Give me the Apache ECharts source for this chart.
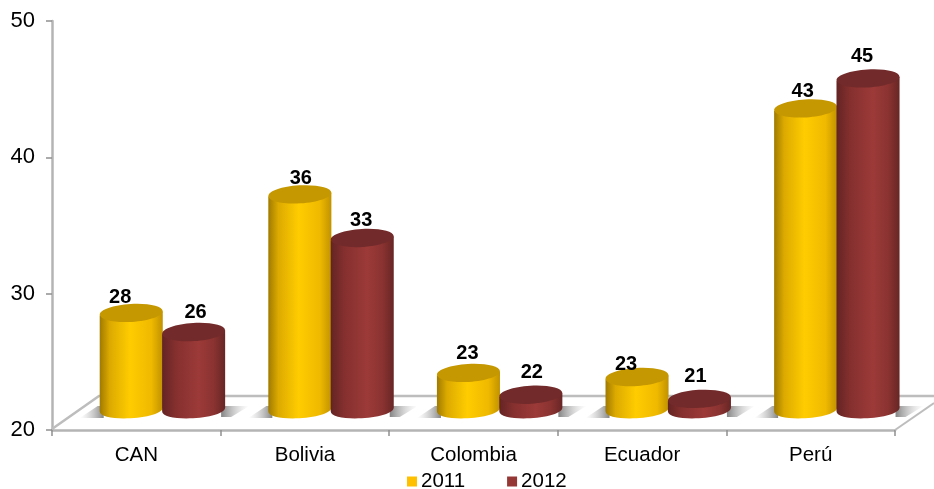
<!DOCTYPE html>
<html><head><meta charset="utf-8">
<script src="https://cdn.jsdelivr.net/npm/echarts@6/dist/echarts.min.js"></script>
<style>html,body{margin:0;padding:0;background:#fff}#c{width:934px;height:489px}</style>
</head><body><div id="c"></div>
<script>
const categories = ['CAN','Bolivia','Colombia','Ecuador','Perú'];
const values2011 = [28.0, 36.7, 23.6, 23.3, 43.0];
const values2012 = [26.6, 33.5, 22.0, 21.7, 45.2];
const yTicks = {min:20, max:50, interval:10};
const labelNudge2011 = [[-11,-15],[1,-16],[-1,-19],[-11,-13],[-3,-17]];
const labelNudge2012 = [[2,-20],[-1,-17],[1,-22],[-4,-22],[-6,-22]];

const FONT = '"Liberation Sans", Arial, sans-serif';
const palettes = {
  '2011': {flat:'#FFC000', stops:[[0,'#a07a00'],[0.16,'#dcaa00'],[0.48,'#ffcc00'],[0.82,'#efb900'],[1,'#c09200']], top:'#c59700'},
  '2012': {flat:'#953735', stops:[[0,'#632423'],[0.22,'#85302f'],[0.58,'#9c3a38'],[0.82,'#8a3331'],[1,'#672625']], top:'#722b2a'}
};
function makeRender(name, barOffset, shadow, nudge){
  const p = palettes[name];
  return function(params, api){
    const cat = api.value(0), v = api.value(1);
    const c = api.coord([cat, v]);
    const base = api.coord([cat, yTicks.min]);
    const band = api.size([1,0])[0];
    const hw = band*0.187, rx = hw, ry = 9, rot = 0.06;
    const cx = c[0] + barOffset*band;
    const topY = c[1] - 8, baseY = base[1] - 21;
    const children = [];
    if(shadow==='left'){
      children.push({type:'polygon',z2:1,shape:{points:[[cx-hw-20,baseY+9],[cx-hw-2,baseY-3],[cx-hw+4,baseY-3],[cx-hw+4,baseY+9]]},
        style:{fill:{type:'linear',x:0,y:0,x2:1,y2:0,colorStops:[{offset:0,color:'rgba(190,190,190,0)'},{offset:1,color:'rgba(110,110,110,0.85)'}]}}});
    } else {
      children.push({type:'polygon',z2:1,shape:{points:[[cx+hw-4,baseY-3],[cx+hw+24,baseY-3],[cx+hw+6,baseY+8],[cx+hw-4,baseY+8]]},
        style:{fill:{type:'linear',x:0,y:0,x2:1,y2:0,colorStops:[{offset:0,color:'rgba(110,110,110,0.85)'},{offset:1,color:'rgba(190,190,190,0)'}]}}});
    }
    const path = `M${cx-hw} ${topY+rot*hw} L${cx-hw} ${baseY+rot*hw} `+
      `C${cx-hw} ${baseY+rot*hw+ry*1.3} ${cx+hw} ${baseY-rot*hw+ry*1.3} ${cx+hw} ${baseY-rot*hw} `+
      `L${cx+hw} ${topY-rot*hw} Z`;
    children.push({type:'path',z2:2,shape:{pathData:path,x:cx-hw,y:topY-rot*hw,width:2*hw,height:baseY+ry*1.3-topY},
      style:{fill:{type:'linear',x:0,y:0,x2:1,y2:0,colorStops:p.stops.map(s=>({offset:s[0],color:s[1]}))}}});
    children.push({type:'ellipse',z2:3,shape:{cx:0,cy:0,rx:rx,ry:ry},x:cx,y:topY,rotation:rot,
      style:{fill:p.top}});
    const n = nudge[cat];
    children.push({type:'text',z2:4,x:cx+n[0],y:topY+n[1],
      style:{text:String(Math.floor(v)),font:'bold 20px '+FONT,fill:'#000',align:'center',verticalAlign:'middle'}});
    return {type:'group',children};
  };
}
const toData = arr => arr.map((v,i)=>[i,v]);
const grey = '#b4b4b4';
const chart = echarts.init(document.getElementById('c'),null,{renderer:'canvas'});
chart.setOption({
  animation:false,
  backgroundColor:'#fff',
  grid:{left:52,right:39,top:21,height:409},
  xAxis:{type:'category',data:categories,
    axisLine:{lineStyle:{color:grey,width:2.5}},
    axisTick:{show:true,alignWithLabel:false,length:6,lineStyle:{color:'#909090',width:1.5}},
    axisLabel:{color:'#000',fontFamily:FONT,fontSize:20.5,margin:15},
    splitLine:{show:false}},
  yAxis:{type:'value',min:yTicks.min,max:yTicks.max,interval:yTicks.interval,
    axisLine:{show:true,lineStyle:{color:grey,width:2.5}},
    axisTick:{show:true,length:6,lineStyle:{color:'#909090',width:1.5}},
    axisLabel:{color:'#000',fontFamily:FONT,fontSize:22,margin:17},
    splitLine:{show:false}},
  legend:{left:402,top:466,itemWidth:10,itemHeight:10,itemGap:42,icon:'rect',
    textStyle:{color:'#000',fontFamily:FONT,fontSize:20.5,padding:[0,0,0,-1]},
    data:['2011','2012']},
  graphic:[
    {type:'polyline',silent:true,z:1,shape:{points:[[52,429],[99,396],[934,396]]},style:{fill:'none',stroke:'#bdbdbd',lineWidth:2.5}},
    {type:'line',silent:true,z:1,shape:{x1:895,y1:430,x2:934,y2:403},style:{stroke:'#bdbdbd',lineWidth:2}}
  ],
  series:[
    {name:'2011',type:'custom',itemStyle:{color:palettes['2011'].flat},data:toData(values2011),
     encode:{x:0,y:1},renderItem:makeRender('2011',-0.03,'left',labelNudge2011),clip:false,z:5},
    {name:'2012',type:'custom',itemStyle:{color:palettes['2012'].flat},data:toData(values2012),
     encode:{x:0,y:1},renderItem:makeRender('2012',0.34,'right',labelNudge2012),clip:false,z:6}
  ]
});
</script></body></html>
